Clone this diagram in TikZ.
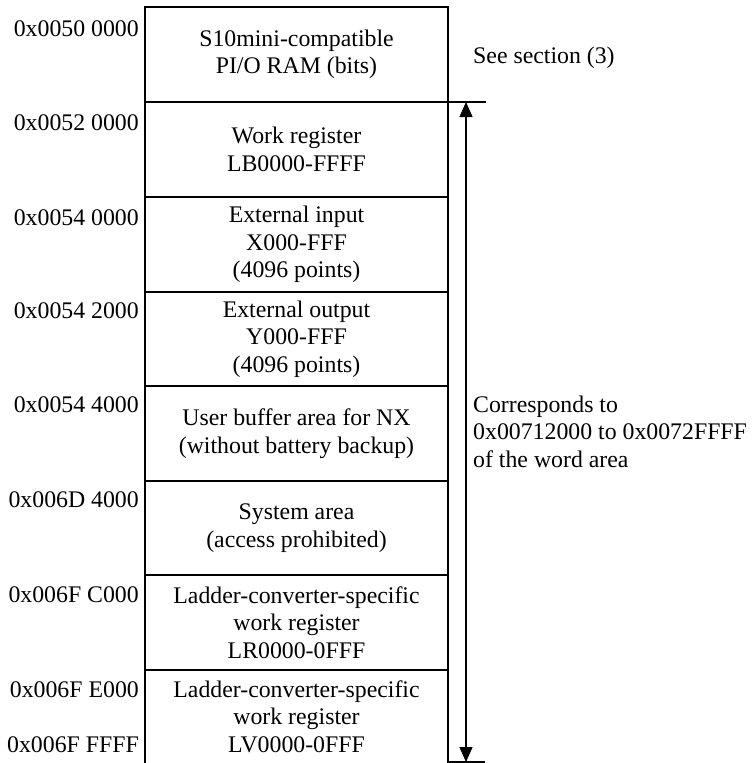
\documentclass[tikz,border=0pt]{standalone}
\usepackage{fontspec}
\setmainfont{Liberation Serif}
\usetikzlibrary{arrows.meta}
\begin{document}
\begin{tikzpicture}[x=1pt,y=-1pt,
  every node/.style={font=\fontsize{23.8}{27.4}\selectfont, inner sep=0pt},
  frame/.style={line width=2.4pt},
  span/.style={line width=1.3pt},
  addr/.style={anchor=base east},
  cell/.style={align=center},
  note/.style={anchor=base west, align=left},
  >={Triangle[length=15pt,width=13pt]}]
\useasboundingbox (0,0) rectangle (753,763);

% memory map frame: open at the bottom
\draw[frame] (145,765) -- (145,7) -- (448,7) -- (448,765);
\foreach \y in {102,197,292,386,481,575,670}
  \draw[frame] (145,\y) -- (448,\y);

% region contents
\node[cell] (pio)  at (296.5,54.5)  {S10mini-compatible\\PI/O RAM (bits)};
\node[cell] (lb)   at (296.5,149.5) {Work register\\LB0000-FFFF};
\node[cell] (xin)  at (296.5,244.5) {External input\\X000-FFF\\(4096 points)};
\node[cell] (yout) at (296.5,339)   {External output\\Y000-FFF\\(4096 points)};
\node[cell] (nx)   at (296.5,433.5) {User buffer area for NX\\(without battery backup)};
\node[cell] (sys)  at (296.5,528)   {System area\\(access prohibited)};
\node[cell] (lr)   at (296.5,622.5) {Ladder-converter-specific\\work register\\LR0000-0FFF};
\node[cell] (lv)   at (296.5,716.5) {Ladder-converter-specific\\work register\\LV0000-0FFF};

% start addresses
\node[addr] (a1) at (139,36)  {0x0050 0000};
\node[addr] (a2) at (139,130) {0x0052 0000};
\node[addr] (a3) at (139,225) {0x0054 0000};
\node[addr] (a4) at (139,318) {0x0054 2000};
\node[addr] (a5) at (139,412) {0x0054 4000};
\node[addr] (a6) at (139,507) {0x006D 4000};
\node[addr] (a7) at (139,602) {0x006F C000};
\node[addr] (a8) at (139,697) {0x006F E000};
\node[addr] (a9) at (139,752) {0x006F FFFF};

% span of the word-area mirror
\coordinate (stop) at (466,102);
\coordinate (sbot) at (466,762);
\draw[span] (448,102) -- (486,102);
\draw[span] (447,762) -- (485,762);
\draw[span, <->] (stop) -- (sbot);

% side notes (base anchor sits on the last line)
\node[note] (see) at (473,63) {See section (3)};
\node[note] (corr) at (473,467) {Corresponds to\\0x00712000 to 0x0072FFFF\\of the word area};
\end{tikzpicture}
\end{document}
